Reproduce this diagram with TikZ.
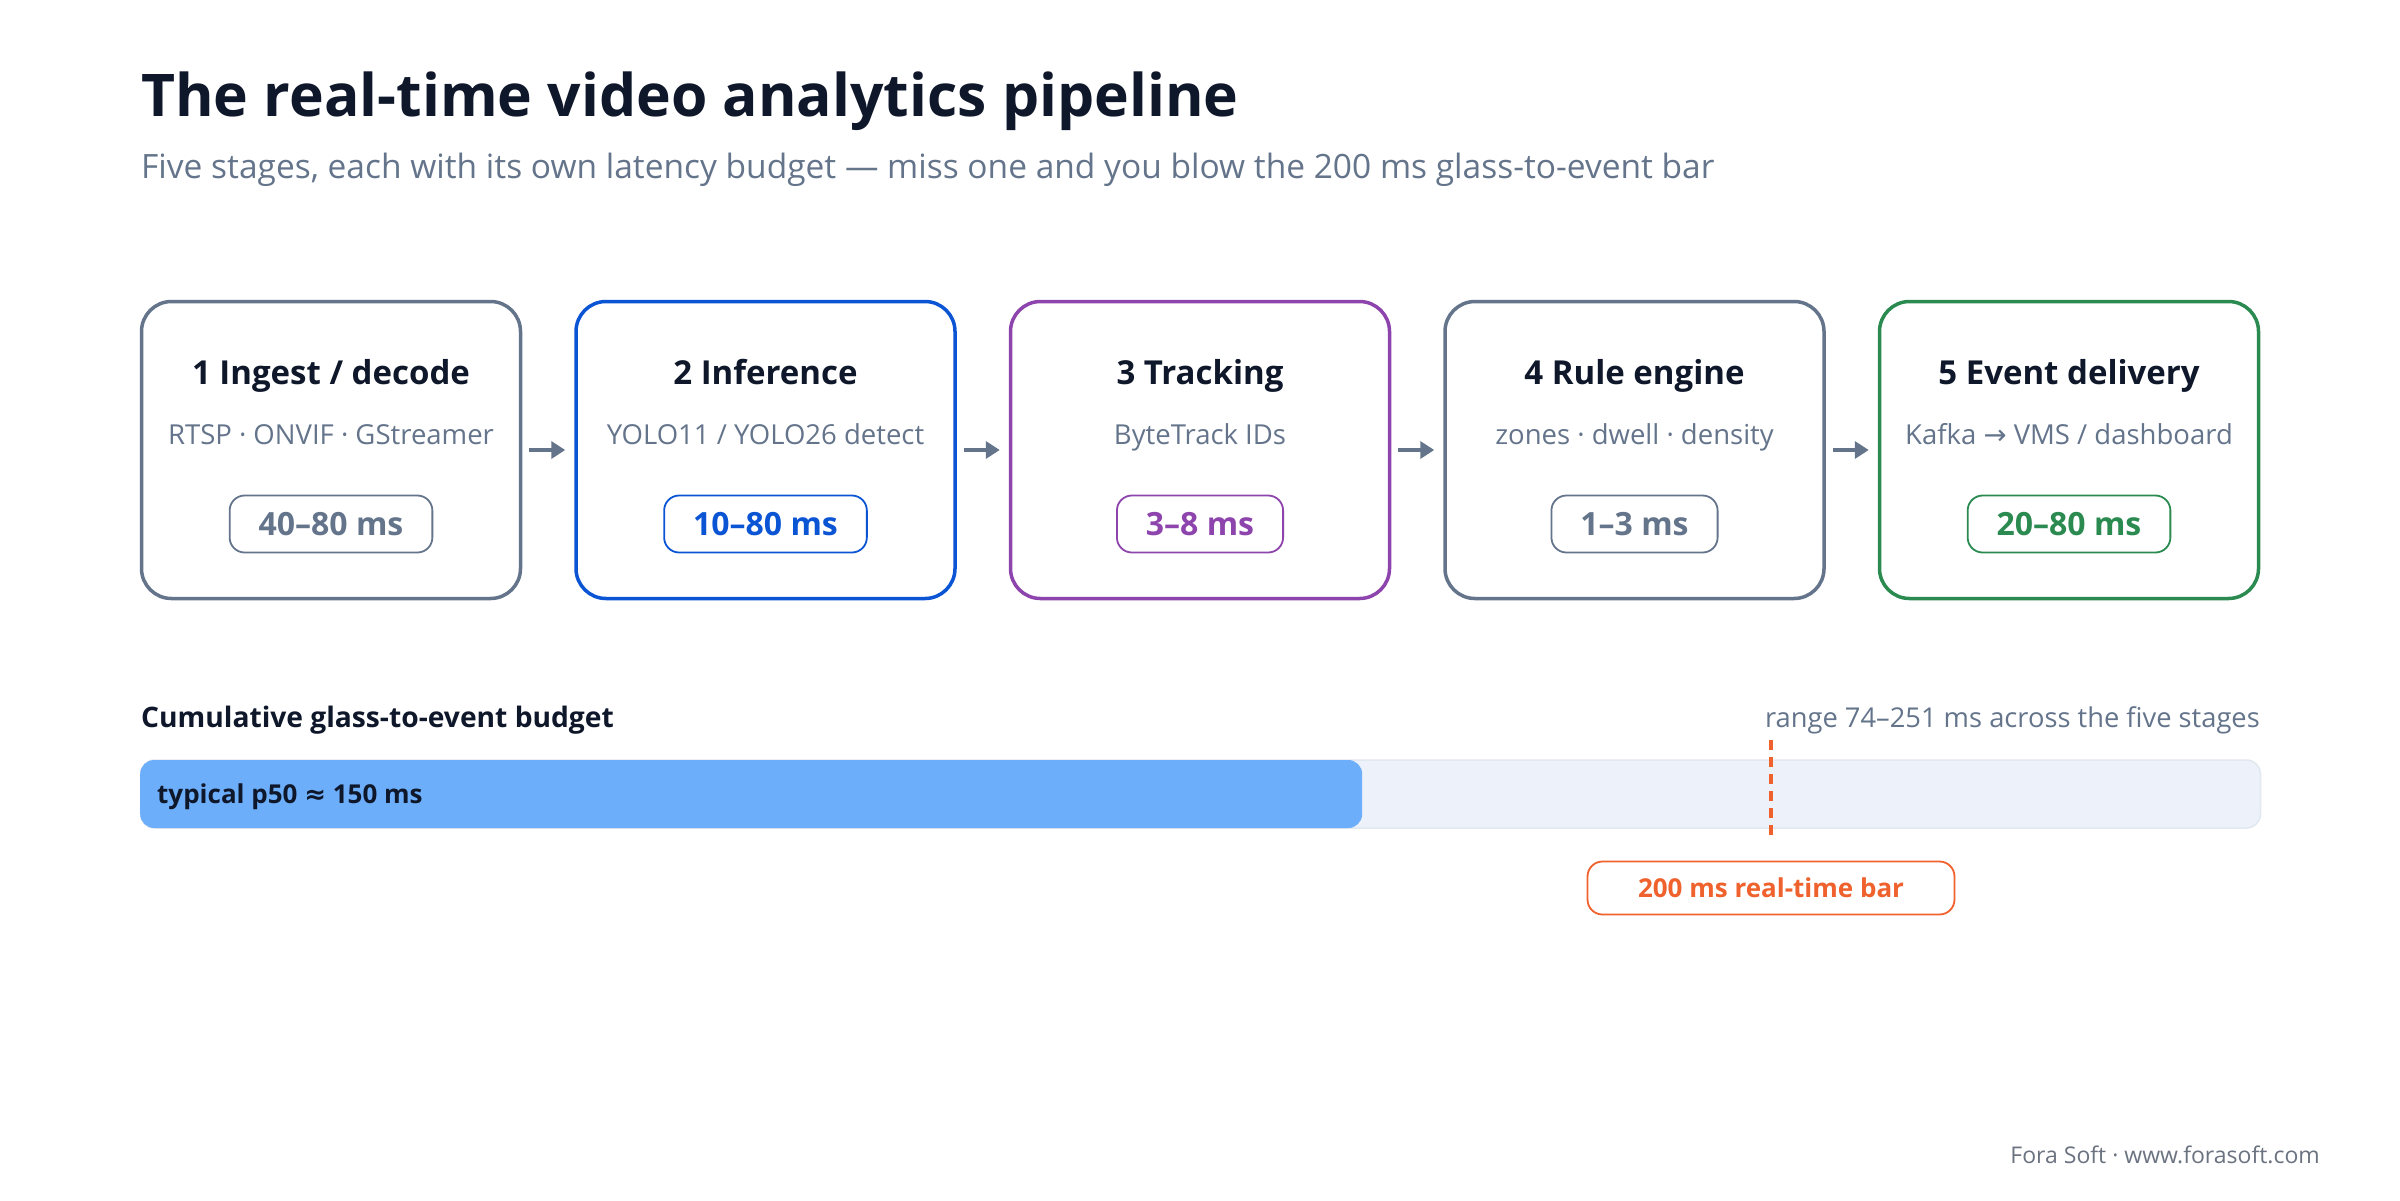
\documentclass[tikz,border=0pt]{standalone}
\usepackage{fontspec}
\setmainfont{Open Sans}
\newfontfamily\symf{DejaVu Sans}
\usetikzlibrary{arrows.meta}
\definecolor{ink}{HTML}{0F172A}
\definecolor{slate}{HTML}{64748B}
\definecolor{cblue}{HTML}{0B55D5}
\definecolor{cpurple}{HTML}{8E44AD}
\definecolor{cgreen}{HTML}{2A8A50}
\definecolor{corange}{HTML}{F0622D}
\definecolor{barbg}{HTML}{EDF2FA}
\definecolor{barline}{HTML}{E2E8F0}
\definecolor{barfill}{HTML}{6CAEFA}
\definecolor{foot}{HTML}{6B7280}
\newcommand\myfs[1]{\fontsize{#1}{#1}\selectfont}
\begin{document}
\begin{tikzpicture}[x=1pt,y=-1pt,
  stagebox/.style={draw=#1, line width=3.5pt, rounded corners=30pt, minimum width=379pt, minimum height=297pt, inner sep=0pt, fill=white},
  boxtitle/.style={anchor=base, inner sep=0pt, text=ink, font=\myfs{33}\bfseries},
  boxsub/.style={anchor=base, inner sep=0pt, text=slate, font=\myfs{27.5}},
  pill/.style={draw=#1, text=#1, line width=1.8pt, rounded corners=15pt, minimum height=57pt, inner xsep=29pt, inner ysep=0pt, text height=22pt, text depth=0pt, font=\myfs{32}\bfseries, fill=white},
  arr/.style={-{Triangle[length=14pt,width=17pt]}, line width=4pt, draw=slate, shorten <=7pt, shorten >=9pt},
  lbl/.style={inner sep=0pt, font=\myfs{27.3}}
]
\fill[white] (0,0) rectangle (2400,1200);
\useasboundingbox (0,0) rectangle (2400,1200);

% title
\node[anchor=base west, inner sep=0pt, text=ink, font=\myfs{58.8}\bfseries] (title) at (141,116) {The real-time video analytics pipeline};
\node[anchor=base west, inner sep=0pt, text=slate, font=\myfs{33.5}] (subtitle) at (141,178) {Five stages, each with its own latency budget — miss one and you blow the 200 ms glass-to-event bar};

% stages
\node[stagebox=slate]   (s1) at (331,450) {};
\node[stagebox=cblue]   (s2) at (765.5,450) {};
\node[stagebox=cpurple] (s3) at (1200,450) {};
\node[stagebox=slate]   (s4) at (1634.5,450) {};
\node[stagebox=cgreen]  (s5) at (2069,450) {};

\node[boxtitle] (t1) at (331,384) {1 Ingest / decode};
\node[boxtitle] (t2) at (765.5,384) {2 Inference};
\node[boxtitle] (t3) at (1200,384) {3 Tracking};
\node[boxtitle] (t4) at (1634.5,384) {4 Rule engine};
\node[boxtitle] (t5) at (2069,384) {5 Event delivery};

\node[boxsub] (u1) at (331,444) {RTSP · ONVIF · GStreamer};
\node[boxsub] (u2) at (765.5,444) {YOLO11 / YOLO26 detect};
\node[boxsub] (u3) at (1200,444) {ByteTrack IDs};
\node[boxsub] (u4) at (1634.5,444) {zones · dwell · density};
\node[boxsub] (u5) at (2069,444) {Kafka {\symf →} VMS / dashboard};

\node[pill=slate]   (p1) at (331,524) {40–80 ms};
\node[pill=cblue]   (p2) at (765.5,524) {10–80 ms};
\node[pill=cpurple] (p3) at (1200,524) {3–8 ms};
\node[pill=slate]   (p4) at (1634.5,524) {1–3 ms};
\node[pill=cgreen]  (p5) at (2069,524) {20–80 ms};

\draw[arr] (s1) -- (s2);
\draw[arr] (s2) -- (s3);
\draw[arr] (s3) -- (s4);
\draw[arr] (s4) -- (s5);

% budget bar
\node[lbl, anchor=base west, text=ink, font=\myfs{28.2}\bfseries] (cum) at (141,727) {Cumulative glass-to-event budget};
\node[lbl, anchor=base east, text=slate] (range) at (2260,727) {range 74–251 ms across the five stages};

\node[draw=barline, fill=barbg, line width=1.5pt, rounded corners=14pt, minimum width=2120pt, minimum height=68pt, inner sep=0pt] (bar) at (1200.5,794) {};
\node[fill=barfill, rounded corners=14pt, minimum width=1222pt, minimum height=68pt, inner sep=0pt, anchor=west] (p50) at (140,794) {};
\node[lbl, anchor=base west, text=ink, font=\myfs{26}\bfseries] (p50txt) at (157,803) {typical p50 {\symf ≈} 150 ms};

\coordinate (dtop) at (1771,740);
\coordinate (dbot) at (1771,839);
\draw[draw=corange, line width=3.5pt, dash pattern=on 10pt off 7pt] (dtop) -- (dbot);
\node[pill=corange, minimum width=367pt, minimum height=53pt, font=\myfs{26}\bfseries, text height=19pt] (rt) at (1771,888) {200 ms real-time bar};

% footer
\node[anchor=base east, inner sep=0pt, text=foot, font=\myfs{23}] (footer) at (2320,1163) {Fora Soft · www.forasoft.com};
\end{tikzpicture}
\end{document}
